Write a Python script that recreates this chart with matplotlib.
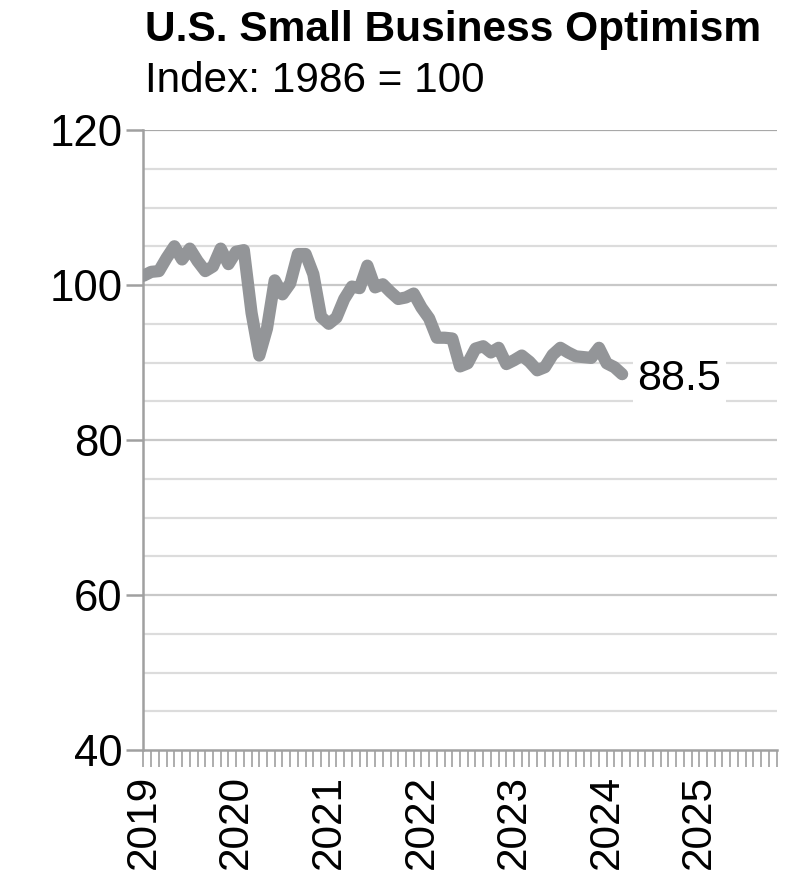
import matplotlib
matplotlib.use("Agg")
import matplotlib.pyplot as plt
import numpy as np

plt.rcParams['font.family'] = ['Liberation Sans', 'DejaVu Sans']

title = "U.S. Small Business Optimism"
subtitle = "Index: 1986 = 100"
years = ["2019", "2020", "2021", "2022", "2023", "2024", "2025"]
optimism = [
    101.2, 101.7, 101.8, 103.5, 105.0, 103.3, 104.7, 103.1, 101.8, 102.4, 104.7, 102.7,
    104.3, 104.5, 96.4, 90.9, 94.4, 100.6, 98.8, 100.2, 104.0, 104.0, 101.4, 95.9,
    95.0, 95.8, 98.2, 99.8, 99.6, 102.5, 99.7, 100.1, 99.1, 98.2, 98.4, 98.9,
    97.1, 95.7, 93.2, 93.2, 93.1, 89.5, 89.9, 91.8, 92.1, 91.3, 91.9, 89.8,
    90.3, 90.9, 90.1, 89.0, 89.4, 91.0, 91.9, 91.3, 90.8, 90.7, 90.6, 91.9,
    89.9, 89.4, 88.5,
]
n_months_axis = 82
last_label = "88.5"

fig = plt.figure(figsize=(7.91, 8.71), dpi=100)
ax = fig.add_axes([0.1814, 0.1389, 0.8003, 0.7118])

x = np.arange(len(optimism))
ax.set_xlim(0, n_months_axis)
ax.set_ylim(40, 120)

# gridlines
for v in np.arange(45, 120, 5):
    major = (v % 20 == 0)
    ax.axhline(v, color='#c8c8c8' if major else '#dcdcdc', lw=1.6, zorder=1)
ax.axhline(120, color='#a8a8a8', lw=1.6, zorder=1)

ax.plot(x, optimism, color='#939598', lw=8.8, solid_joinstyle='round',
        solid_capstyle='round', zorder=3)

ax.text(x[-1] + 2.0, optimism[-1] - 0.6, last_label, fontsize=31, va='center', ha='left',
        bbox=dict(facecolor='white', edgecolor='none', pad=3), zorder=4)

for s in ['top', 'right']:
    ax.spines[s].set_visible(False)
ax.spines['left'].set_color('#a0a0a0')
ax.spines['left'].set_linewidth(1.8)
ax.spines['bottom'].set_color('#a0a0a0')
ax.spines['bottom'].set_linewidth(1.8)

ax.set_yticks([40, 60, 80, 100, 120])
ax.set_yticklabels(["40", "60", "80", "100", "120"])
ax.tick_params(axis='y', length=12, width=1.8, color='#a0a0a0', labelsize=31.5, pad=3)

ax.set_xticks(np.arange(0, n_months_axis + 1, 1), minor=True)
ax.set_xticks(np.arange(0, 12 * len(years), 12))
ax.set_xticklabels(years, rotation=90)
ax.tick_params(axis='x', which='both', length=12, width=1.2, color='#a0a0a0',
               labelsize=30.5, pad=6)

fig.text(0.1833, 0.953, title, fontsize=30.6, fontweight='bold', ha='left', va='baseline')
fig.text(0.1833, 0.894, subtitle, fontsize=30.4, ha='left', va='baseline')

fig.savefig("out.png", dpi=100, facecolor='white')
